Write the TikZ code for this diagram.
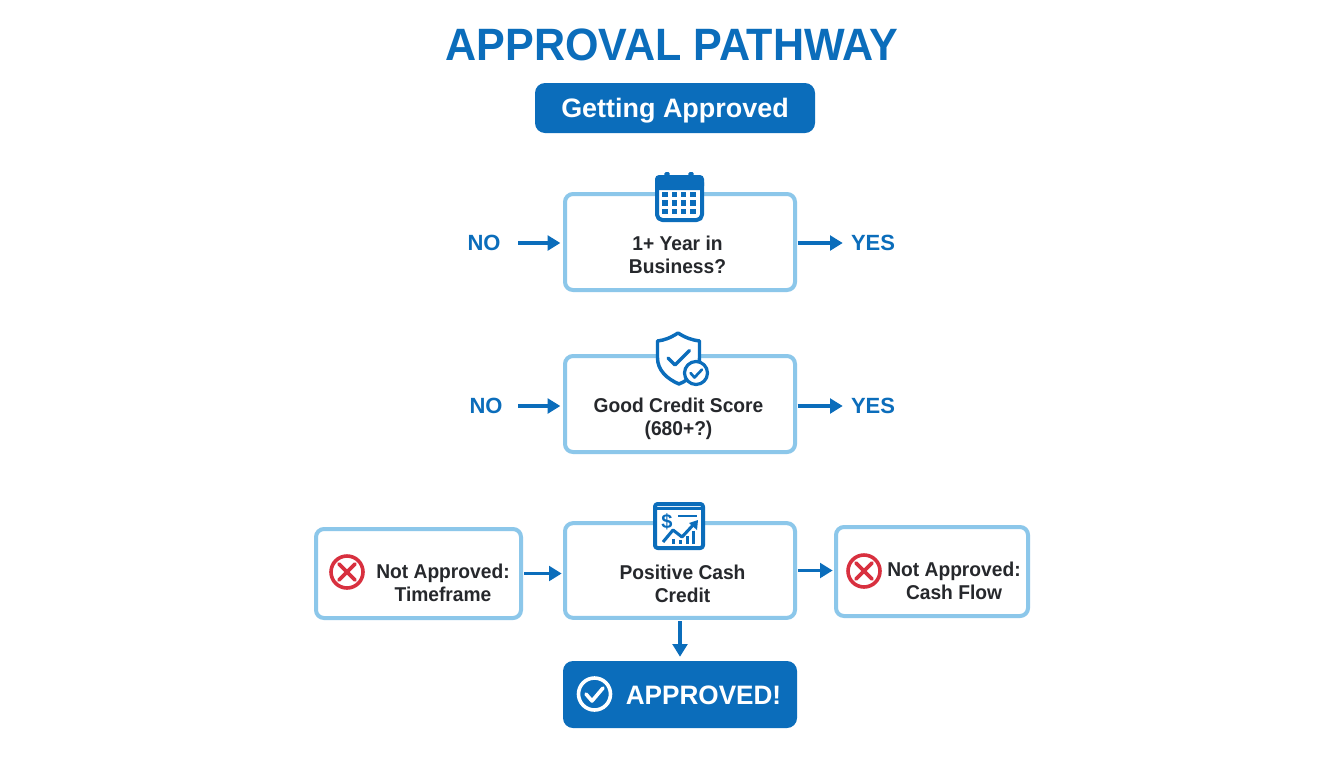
\documentclass[tikz,border=0pt]{standalone}
\usepackage{fontspec}
\setmainfont{Liberation Sans}
\usetikzlibrary{arrows.meta,calc}
\definecolor{bluedark}{HTML}{0B6DBB}
\definecolor{bluelight}{HTML}{8CC7EA}
\definecolor{inktext}{HTML}{26282C}
\definecolor{redx}{HTML}{D8303F}
\tikzset{
  x=0.75pt,y=-0.75pt,
  flowbox/.style={draw=bluelight,line width=3pt,fill=white,rounded corners=6pt,inner sep=0pt,anchor=center},
  solidbox/.style={fill=bluedark,rounded corners=7.5pt,inner sep=0pt,text=white,font=\bfseries},
  boxtext/.style={font=\fontsize{15}{17.3}\selectfont\bfseries,text=inktext,align=center,inner sep=0pt,xscale=0.96},
  answer/.style={font=\fontsize{16.5}{18}\selectfont\bfseries,text=bluedark,inner sep=0pt},
  flowarrow/.style={draw=bluedark,line width=2.3pt,-{Triangle[length=9.5pt,width=11pt]}},
  iconline/.style={draw=bluedark,line width=2.6pt,line join=round,line cap=round},
}
\begin{document}
\begin{tikzpicture}
\useasboundingbox (0,0) rectangle (1344,768);
\fill[white] (0,0) rectangle (1344,768);

\node[text=bluedark,font=\fontsize{34}{36}\selectfont\bfseries,inner sep=0pt,xscale=0.95] (title) at (672,45) {APPROVAL PATHWAY};
\node[solidbox,minimum width=210pt,minimum height=37.5pt] (head) at (675,108) {};
\node[text=white,font=\fontsize{20}{22}\selectfont\bfseries,inner sep=0pt,xscale=1.01] (headtext) at (675,111) {Getting Approved};

\node[flowbox,minimum width=172.5pt,minimum height=72pt] (b1) at (680,242) {};
\node[flowbox,minimum width=172.5pt,minimum height=72pt] (b2) at (680,404) {};
\node[flowbox,minimum width=172.5pt,minimum height=71pt] (b3) at (680,570.5) {};
\node[flowbox,minimum width=153.75pt,minimum height=66.75pt] (nl) at (418.5,573.5) {};
\node[flowbox,minimum width=144pt,minimum height=66.75pt] (nr) at (932,571.5) {};
\node[solidbox,minimum width=175.5pt,minimum height=50.25pt] (ok) at (680,694.5) {};

\node[boxtext] (t1) at (677.5,254.5) {1+ Year in\\Business?};
\node[boxtext] (t2) at (678.5,419) {Good Credit Score\\(680+?)};
\node[boxtext] (t3) at (682.5,584) {Positive Cash\\Credit};
\node[boxtext] (tl) at (443,582.5) {Not Approved:\\Timeframe};
\node[boxtext] (tr) at (954,580.5) {Not Approved:\\Cash Flow};
\node[text=white,font=\fontsize{20}{22}\selectfont\bfseries,inner sep=0pt,xscale=0.98] (tok) at (703.5,695) {APPROVED!};

\node[answer] (no1) at (484,243) {NO};
\node[answer] (yes1) at (873,243) {YES};
\node[answer] (no2) at (486,406) {NO};
\node[answer] (yes2) at (873,406) {YES};

\draw[flowarrow,shorten <=13pt,shorten >=2pt] (no1.east) -- (no1.east -| b1.west);
\draw[flowarrow,shorten <=0.5pt,shorten >=6pt] (yes1.west -| b1.east) -- (yes1.west);
\draw[flowarrow,shorten <=11.5pt,shorten >=2pt] (no2.east) -- (no2.east -| b2.west);
\draw[flowarrow,shorten <=0.5pt,shorten >=6pt] (yes2.west -| b2.east) -- (yes2.west);
\draw[flowarrow,shorten <=1pt,shorten >=1pt] (nl.east) -- (nl.east -| b3.west);
\draw[flowarrow,shorten <=0.5pt,shorten >=1pt] (b3.east) -- (b3.east -| nr.west);
\draw[flowarrow,shorten <=1pt,shorten >=3pt] (b3.south) -- (ok.north);

% calendar icon
\fill[bluedark,rounded corners=1pt] (664.4,172) rectangle (669.6,180);
\fill[bluedark,rounded corners=1pt] (688.4,172) rectangle (693.6,180);
\draw[iconline,line width=3pt,fill=white,rounded corners=4pt] (657,177) rectangle (702,220);
\fill[bluedark,rounded corners=3pt] (655,175) rectangle (704,190);
\foreach \gy in {194.5,203,211.5}
  \foreach \gx in {665,674.3,683.7,693}
    \fill[bluedark] (\gx-2.6,\gy-2.6) rectangle (\gx+2.6,\gy+2.6);

% shield icon
\draw[iconline,fill=white] (678,333) .. controls (670,338) and (665,340) .. (657.5,341) -- (657.5,358) .. controls (657.5,370) and (667,379) .. (679,384) .. controls (691,379) and (699.5,370) .. (699.5,358) -- (699.5,341) .. controls (692,340) and (686,338) .. (678,333) -- cycle;
\draw[iconline] (668,358) -- (675,365) -- (689.5,350.5);
\draw[iconline,fill=white,line width=2.4pt] (696,373) circle (11.5);
\draw[iconline,line width=2pt] (690.5,373) -- (694.5,377.5) -- (702,369.5);

% chart icon
\draw[iconline,line width=3pt,fill=white,rounded corners=2pt] (655,504) rectangle (703,548);
\draw[iconline,line width=1.6pt,line cap=butt] (655,508.5) -- (703,508.5);
\node[text=bluedark,font=\fontsize{15}{15}\selectfont\bfseries,inner sep=0pt] (dollar) at (667,522) {\$};
\draw[iconline,line width=2.2pt,line cap=butt] (678,516) -- (697,516);
\draw[iconline,line width=2.3pt,line cap=butt] (663,542) -- (673,530) -- (682,537) -- (694,524);
\fill[bluedark] (698,520) -- (697,530) -- (689,523) -- cycle;
\fill[bluedark] (671.5,539) rectangle (674.5,543.5);
\fill[bluedark] (678.5,540) rectangle (681.5,543.5);
\fill[bluedark] (685.5,536) rectangle (688.5,543.5);
\fill[bluedark] (692,531) rectangle (695,543.5);

% X icons
\foreach \cx/\cy in {347/572,864/571}{
  \draw[redx,line width=2.7pt] (\cx,\cy) circle (16);
  \draw[redx,line width=2.7pt,line cap=round] (\cx-8,\cy-8) -- (\cx+8,\cy+8) (\cx-8,\cy+8) -- (\cx+8,\cy-8);
}
% approved check
\draw[white,line width=2.7pt] (594.5,694) circle (16);
\draw[white,line width=2.7pt,line cap=round,line join=round] (586,694) -- (592,701) -- (603,688);
\end{tikzpicture}
\end{document}
